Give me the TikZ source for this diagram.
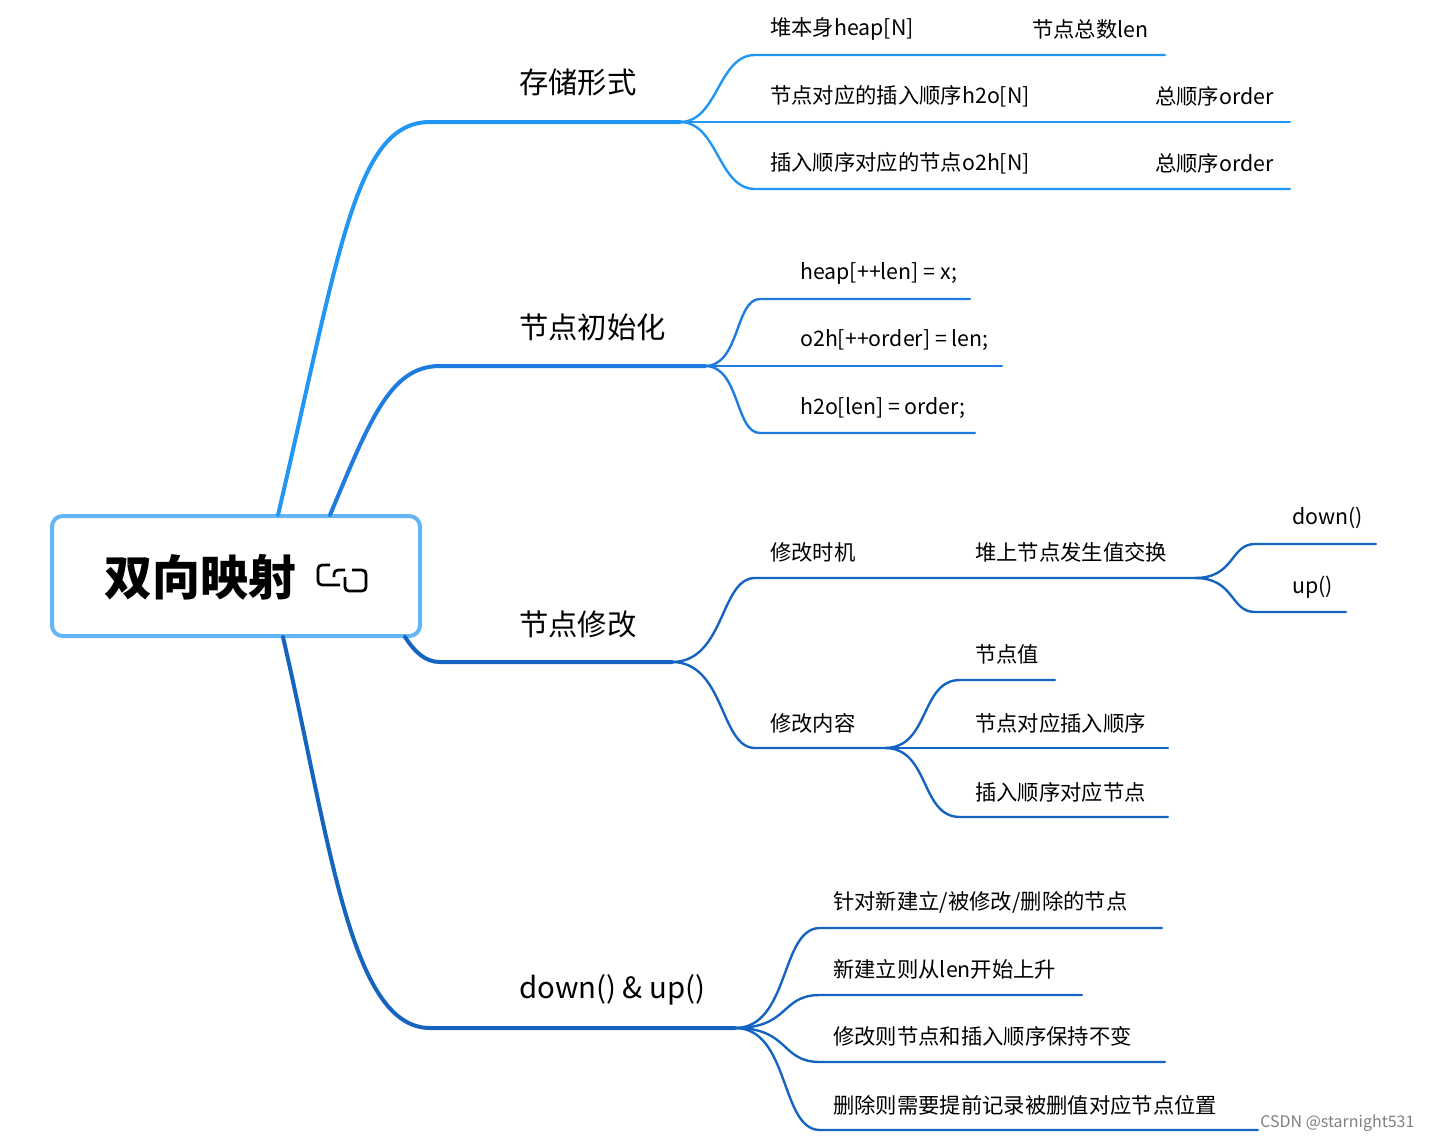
\documentclass[tikz,border=0pt]{standalone}
\usepackage{fontspec}
\setmainfont{Noto Sans CJK SC}
\definecolor{bA}{HTML}{2196F3}
\definecolor{bB}{HTML}{1E7BE0}
\definecolor{bC}{HTML}{1565C0}
\definecolor{rootb}{HTML}{64B5F6}
\begin{document}
\begin{tikzpicture}[x=0.75pt,y=-0.75pt,
  main/.style={line width=3pt,line cap=round},
  sub/.style={line width=1.8pt,line cap=round},
  lbl/.style={anchor=west,inner sep=0pt,font=\fontsize{16}{18}\selectfont},
  mlbl/.style={anchor=west,inner sep=0pt,font=\fontsize{22}{24}\selectfont}]
\useasboundingbox (0,0) rectangle (1442,1142);
% root
\node[draw=rootb,line width=3pt,rounded corners=8pt,minimum width=276pt,minimum height=90pt,fill=white] (root) at (236,576) {};
\node[inner sep=0pt,font=\fontsize{36}{40}\selectfont\bfseries] (rt) at (200,577) {双向映射};
\draw[line width=2pt,rounded corners=3pt] (330,565) -- (318,565) -- (318,585) -- (340,585);
\draw[line width=2pt,rounded corners=3pt] (345,577) -- (345,591) -- (366,591) -- (366,570) -- (352,570);
\draw[line width=2pt,rounded corners=3pt] (334,577) -- (334,570) -- (345,570);
% coordinates
\coordinate (r1) at (278,515); \coordinate (r2) at (330,515);
\coordinate (r3) at (405,637); \coordinate (r4) at (283,637);
% branch 1
\coordinate (a0) at (430,122); \coordinate (a1) at (680,122);
\draw[main,bA] (r1) .. controls (340,250) and (355,122) .. (a0) -- (a1);
\node[mlbl] (t1) at (519,82) {存储形式};
\coordinate (a11) at (755,55); \coordinate (a11e) at (1165,55);
\coordinate (a12) at (755,122); \coordinate (a12e) at (1290,122);
\coordinate (a13) at (755,189); \coordinate (a13e) at (1290,189);
\draw[sub,bA] (a1) .. controls (718,122) and (718,55) .. (a11) -- (a11e);
\draw[sub,bA] (a1) -- (a12) -- (a12e);
\draw[sub,bA] (a1) .. controls (718,122) and (718,189) .. (a13) -- (a13e);
\node[lbl] (t11) at (770,29) {堆本身heap[N]};
\node[lbl] (t11b) at (1032,29) {节点总数len};
\node[lbl] (t12) at (770,96) {节点对应的插入顺序h2o[N]};
\node[lbl] (t12b) at (1155,96) {总顺序order};
\node[lbl] (t13) at (770,163) {插入顺序对应的节点o2h[N]};
\node[lbl] (t13b) at (1155,163) {总顺序order};
% branch 2
\coordinate (b0) at (440,366); \coordinate (b1) at (705,366);
\draw[main,bB] (r2) .. controls (370,420) and (390,366) .. (b0) -- (b1);
\node[mlbl] (t2) at (519,327) {节点初始化};
\coordinate (b21) at (760,299); \coordinate (b21e) at (970,299);
\coordinate (b22) at (760,366); \coordinate (b22e) at (1002,366);
\coordinate (b23) at (760,433); \coordinate (b23e) at (975,433);
\draw[sub,bB] (b1) .. controls (740,366) and (735,299) .. (b21) -- (b21e);
\draw[sub,bB] (b1) -- (b22) -- (b22e);
\draw[sub,bB] (b1) .. controls (740,366) and (735,433) .. (b23) -- (b23e);
\node[lbl] (t21) at (800,273) {heap[++len] = x;};
\node[lbl] (t22) at (800,340) {o2h[++order] = len;};
\node[lbl] (t23) at (800,408) {h2o[len] = order;};
% branch 3
\coordinate (c0) at (440,662); \coordinate (c1) at (672,662);
\draw[main,bC] (r3) .. controls (415,652) and (425,662) .. (c0) -- (c1);
\node[mlbl] (t3) at (519,624) {节点修改};
\coordinate (c31) at (755,578); \coordinate (c31e) at (1195,578);
\coordinate (c32) at (755,748); \coordinate (c32e) at (885,748);
\draw[sub,bC] (c1) .. controls (725,662) and (720,578) .. (c31) -- (c31e);
\draw[sub,bC] (c1) .. controls (725,662) and (720,748) .. (c32) -- (c32e);
\node[lbl] (t31) at (770,552) {修改时机};
\node[lbl] (t31b) at (975,552) {堆上节点发生值交换};
\node[lbl] (t32) at (770,723) {修改内容};
\coordinate (d1) at (1255,544); \coordinate (d1e) at (1376,544);
\coordinate (d2) at (1255,612); \coordinate (d2e) at (1346,612);
\draw[sub,bC] (c31e) .. controls (1235,578) and (1230,544) .. (d1) -- (d1e);
\draw[sub,bC] (c31e) .. controls (1235,578) and (1230,612) .. (d2) -- (d2e);
\node[lbl] (td1) at (1292,518) {down()};
\node[lbl] (td2) at (1292,587) {up()};
\coordinate (e1) at (960,680); \coordinate (e1e) at (1055,680);
\coordinate (e2) at (960,748); \coordinate (e2e) at (1168,748);
\coordinate (e3) at (960,817); \coordinate (e3e) at (1168,817);
\draw[sub,bC] (c32e) .. controls (930,748) and (920,680) .. (e1) -- (e1e);
\draw[sub,bC] (c32e) -- (e2) -- (e2e);
\draw[sub,bC] (c32e) .. controls (930,748) and (920,817) .. (e3) -- (e3e);
\node[lbl] (te1) at (975,654) {节点值};
\node[lbl] (te2) at (975,723) {节点对应插入顺序};
\node[lbl] (te3) at (975,792) {插入顺序对应节点};
% branch 4
\coordinate (f0) at (430,1028); \coordinate (f1) at (735,1028);
\draw[main,bC] (r4) .. controls (330,840) and (350,1028) .. (f0) -- (f1);
\node[mlbl] (t4) at (519,990) {down() \& up()};
\coordinate (g1) at (820,928); \coordinate (g1e) at (1162,928);
\coordinate (g2) at (820,995); \coordinate (g2e) at (1082,995);
\coordinate (g3) at (820,1062); \coordinate (g3e) at (1165,1062);
\coordinate (g4) at (820,1130); \coordinate (g4e) at (1258,1130);
\draw[sub,bC] (f1) .. controls (790,1028) and (780,928) .. (g1) -- (g1e);
\draw[sub,bC] (f1) .. controls (790,1028) and (780,995) .. (g2) -- (g2e);
\draw[sub,bC] (f1) .. controls (790,1028) and (780,1062) .. (g3) -- (g3e);
\draw[sub,bC] (f1) .. controls (790,1028) and (780,1130) .. (g4) -- (g4e);
\node[lbl] (tg1) at (833,902) {针对新建立/被修改/删除的节点};
\node[lbl] (tg2) at (833,969) {新建立则从len开始上升};
\node[lbl] (tg3) at (833,1036) {修改则节点和插入顺序保持不变};
\node[lbl] (tg4) at (833,1105) {删除则需要提前记录被删值对应节点位置};
\node[anchor=west,inner sep=0pt,text=gray,font=\fontsize{12}{14}\selectfont] (wm) at (1260,1123) {CSDN @starnight531};
\end{tikzpicture}
\end{document}
